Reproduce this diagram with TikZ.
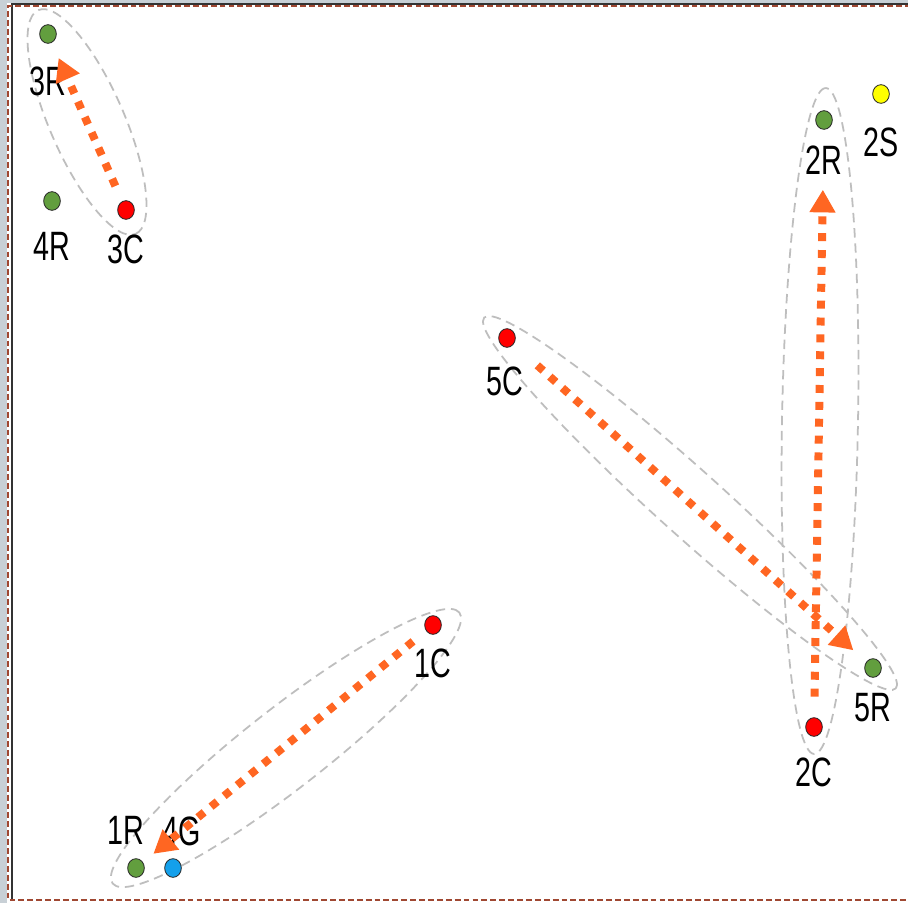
\documentclass[tikz,border=0pt]{standalone}
\usepackage{graphicx}
\usepackage{fontspec}
\setmainfont{Liberation Sans}
\usepackage{tikz}
\usetikzlibrary{arrows.meta,shapes.geometric}
\definecolor{dotgreen}{RGB}{98,158,62}
\definecolor{dotred}{RGB}{255,0,0}
\definecolor{dotyellow}{RGB}{255,255,0}
\definecolor{dotblue}{RGB}{20,160,235}
\definecolor{linkorange}{RGB}{255,102,34}
\definecolor{grpgrey}{RGB}{190,190,190}
\definecolor{framebrown}{RGB}{160,72,50}
\definecolor{stripgrey}{RGB}{200,208,214}
\newcommand{\lbltext}[1]{\scalebox{0.7}[1]{#1}}
\tikzset{
  dot/.style={ellipse,draw=black!85,line width=0.7pt,minimum width=0.5cm,minimum height=0.56cm,inner sep=0pt},
  lbl/.style={font=\fontsize{35}{40}\selectfont,inner sep=0pt},
  grp/.style={draw=grpgrey,line width=1.5pt,dash pattern=on 8pt off 5pt},
  link/.style={draw=linkorange,line width=6.8pt,dash pattern=on 6.8pt off 7.6pt,
    -{Triangle[length=0.68cm,width=0.74cm]}},
  framed/.style={draw=framebrown,line width=2.2pt,dash pattern=on 5pt off 2.6pt},
}

\begin{document}
\begin{tikzpicture}[x=0.03cm,y=-0.03cm]
  \useasboundingbox (0,0) rectangle (908,903);
  % window frame
  \fill[stripgrey] (0,0) rectangle (908,903);
  \fill[white] (7,3) rectangle (908,903);
  \draw[black!80,line width=1pt] (920,4) -- (12,4) -- (12,900);
  \draw[framed] (920,6) -- (8,6) -- (8,900) -- (920,900);

  % groups
  \draw[grp] (87,122) ellipse[x radius=3.66cm,y radius=1.12cm,rotate=-66.5];
  \draw[grp] (820,421) ellipse[x radius=9.99cm,y radius=1.14cm,rotate=89];
  \draw[grp] (690,503) ellipse[x radius=8.31cm,y radius=0.98cm,rotate=-42];
  \draw[grp] (286,748) ellipse[x radius=6.6cm,y radius=1.2cm,rotate=38];

  % points
  \node[dot,fill=dotgreen,label={[lbl,yshift=-0.68cm]below:\lbltext{3R}}] (r3) at (48,34) {};
  \node[dot,fill=dotgreen,label={[lbl,yshift=-0.65cm]below:\lbltext{4R}}] (r4) at (52,201) {};
  \node[dot,fill=dotred,label={[lbl,yshift=-0.44cm]below:\lbltext{3C}}] (c3) at (126,210) {};
  \node[dot,fill=dotgreen,label={[lbl,yshift=-0.47cm]below:\lbltext{2R}}] (r2) at (824,120) {};
  \node[dot,fill=dotyellow,label={[lbl,yshift=-0.71cm]below:\lbltext{2S}}] (s2) at (881,94) {};
  \node[dot,fill=dotred,label={[lbl,xshift=-0.06cm,yshift=-0.56cm]below:\lbltext{5C}}] (c5) at (507,338) {};
  \node[dot,fill=dotred,label={[lbl,yshift=-0.41cm]below:\lbltext{1C}}] (c1) at (433,625) {};
  \node[dot,fill=dotgreen,label={[lbl,yshift=-0.47cm]below:\lbltext{5R}}] (r5) at (873,668) {};
  \node[dot,fill=dotred,label={[lbl,yshift=-0.62cm]below:\lbltext{2C}}] (c2) at (814,727) {};
  \node[dot,fill=dotgreen,label={[lbl,xshift=-0.3cm,yshift=0.41cm]above:\lbltext{1R}}] (r1) at (136,868) {};
  \node[dot,fill=dotblue,label={[lbl,xshift=0.27cm,yshift=0.35cm]above:\lbltext{4G}}] (g4) at (173,868) {};

  % moves
  \draw[link,shorten <=0.5cm,shorten >=0.5cm] (c3) -- (r3);
  \draw[link,shorten <=0.62cm,shorten >=1.8cm] (c2) -- (r2);
  \draw[link,shorten <=0.95cm,shorten >=0.52cm] (c5) -- (r5);
  \draw[link,shorten <=0.5cm,shorten >=0.4cm] (c1) -- (r1);
\end{tikzpicture}
\end{document}
